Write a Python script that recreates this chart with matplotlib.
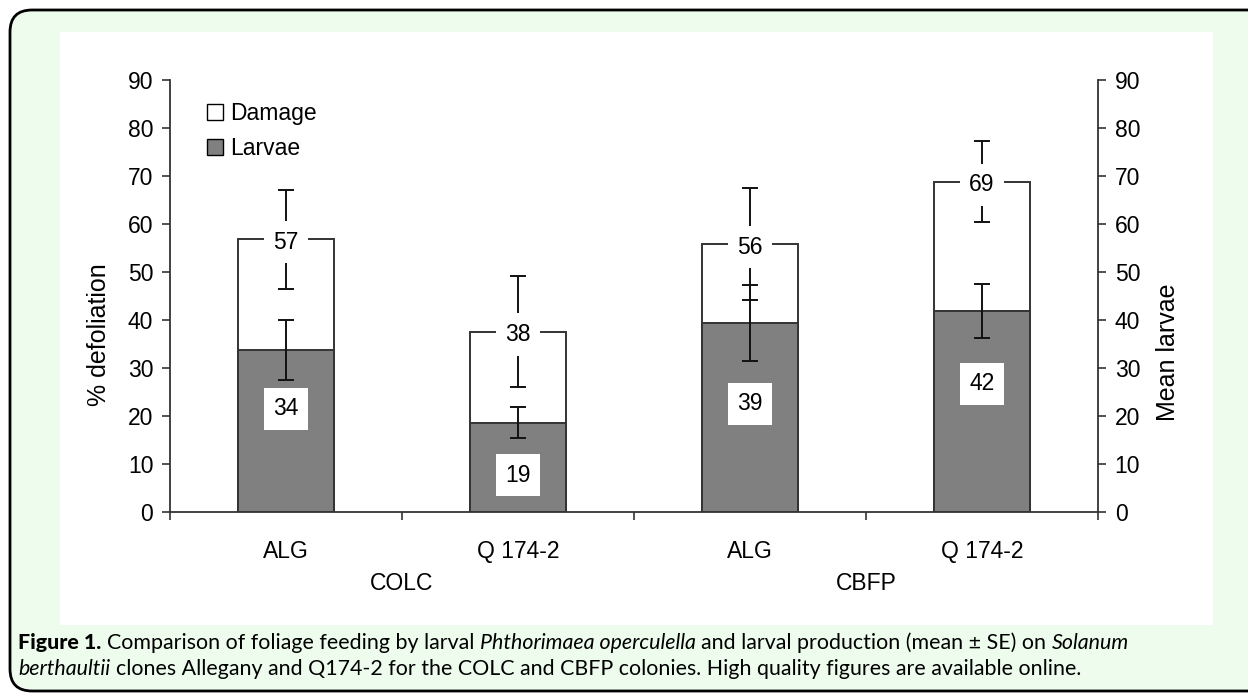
import numpy as np
import matplotlib
matplotlib.use("Agg")
import matplotlib.pyplot as plt
import matplotlib.transforms as mtransforms
from matplotlib.patches import FancyBboxPatch, Rectangle, Patch

plt.rcParams['font.family'] = ['Liberation Sans', 'DejaVu Sans']

# values
groups = ['COLC', 'CBFP']
clones = ['ALG', 'Q 174-2', 'ALG', 'Q 174-2']
damage = [56.8, 37.6, 55.8, 68.8]
damage_se = [10.3, 11.5, 11.6, 8.4]
larvae = [33.8, 18.6, 39.4, 41.9]
larvae_se = [6.3, 3.2, 7.9, 5.7]
damage_labels = ['57', '38', '56', '69']
larvae_labels = ['34', '19', '39', '42']
# hand placed label heights inside the grey bars
larvae_label_y = [21.5, 7.7, 22.5, 26.7]

W, H = 1248, 700
fig = plt.figure(figsize=(W / 100, H / 100), dpi=100)
fig.patch.set_facecolor('white')

# green rounded frame and white panel behind the chart
pix = mtransforms.IdentityTransform()
frame = FancyBboxPatch((10, 9), 1300, 681, boxstyle="round,pad=0,rounding_size=22",
                       fc='#eefcee', ec='black', lw=2, transform=pix, zorder=-10)
fig.add_artist(frame)
panel = Rectangle((60, H - 625), 1153, 593, fc='white', ec='none',
                  transform=pix, zorder=-9)
fig.add_artist(panel)

ax = fig.add_axes([170 / W, 1 - 512 / H, (1098 - 170) / W, (512 - 80) / H])
ax.set_facecolor('none')

x = np.arange(len(clones))
bw = 0.41
edge = '#333333'
ax.bar(x, damage, bw, color='white', edgecolor=edge, lw=1.4, zorder=2, label='Damage')
ax.bar(x, larvae, bw, color='#808080', edgecolor=edge, lw=1.4, zorder=3, label='Larvae')
ax.errorbar(x, damage, yerr=damage_se, fmt='none', ecolor='#111111',
            elinewidth=1.4, capsize=6, capthick=1.4, zorder=4)
ax.errorbar(x, larvae, yerr=larvae_se, fmt='none', ecolor='#111111',
            elinewidth=1.4, capsize=6, capthick=1.4, zorder=4)

box = dict(boxstyle='square,pad=0.42', fc='white', ec='none')
for i in range(len(clones)):
    ax.text(x[i], damage[i] - 0.6, damage_labels[i], ha='center', va='center',
            fontsize=16.5, bbox=box, zorder=6)
    ax.text(x[i], larvae_label_y[i], larvae_labels[i], ha='center', va='center',
            fontsize=16.5, bbox=box, zorder=6)

ax.set_xlim(-0.5, 3.5)
ax.set_ylim(0, 90)
ax.set_yticks(np.arange(0, 91, 10))
ax.set_xticks(np.arange(-0.5, 4, 1))
ax.set_xticklabels([])
ax.set_xticks(x, minor=True)
ax.set_xticklabels(clones, minor=True)
ax.tick_params(axis='x', which='major', direction='out', length=6, color=edge, width=1.2)
ax.tick_params(axis='x', which='minor', length=0, pad=20, labelsize=16.5)
ax.tick_params(axis='y', direction='out', length=6, color=edge, width=1.2,
               labelsize=16.5, pad=6)
for s in ['top', 'right']:
    ax.spines[s].set_visible(False)
for s in ['left', 'bottom']:
    ax.spines[s].set_color(edge)
    ax.spines[s].set_linewidth(1.3)
ax.set_ylabel('% defoliation', fontsize=18)
ax.yaxis.set_label_coords(-0.064, 0.41)

ax2 = ax.twinx()
ax2.set_ylim(0, 90)
ax2.set_yticks(np.arange(0, 91, 10))
for s in ['top', 'left', 'bottom']:
    ax2.spines[s].set_visible(False)
ax2.spines['right'].set_color(edge)
ax2.spines['right'].set_linewidth(1.3)
ax2.tick_params(axis='y', direction='out', length=6, color=edge, width=1.2,
                labelsize=16.5, pad=6)
ax2.set_ylabel('Mean larvae', fontsize=18)
ax2.yaxis.set_label_coords(1.062, 0.37)

# colony labels under each pair of clones
tr = mtransforms.blended_transform_factory(ax.transData, ax.transAxes)
for g, name in enumerate(groups):
    ax.text(2 * g + 0.5, -0.165, name, transform=tr, ha='center', va='center',
            fontsize=16.5)

leg = ax.legend(handles=[Patch(fc='white', ec='black', lw=1),
                         Patch(fc='#808080', ec='black', lw=1)],
                labels=['Damage', 'Larvae'], loc='upper left',
                bbox_to_anchor=(0.03, 0.97), frameon=False, fontsize=16.5,
                handlelength=0.7, handleheight=0.7, handletextpad=0.3,
                labelspacing=0.5, borderaxespad=0)

# caption with mixed bold / italic pieces
cap_font = ['Lato', 'DejaVu Sans']
cap_size = 15.4
lines = [
    [('Figure 1.', 'black', 'normal'),
     ('Comparison of foliage feeding by larval', 'normal', 'normal'),
     ('Phthorimaea operculella', 'normal', 'italic'),
     ('and larval production (mean \u00b1 SE) on', 'normal', 'normal'),
     ('Solanum', 'normal', 'italic')],
    [('berthaultii', 'normal', 'italic'),
     ('clones Allegany and Q174-2 for the COLC and CBFP colonies. High quality figures are available online.',
      'normal', 'normal')],
]
renderer = fig.canvas.get_renderer()
probe = fig.text(0, 0, 'a a', family=cap_font, fontsize=cap_size)
w_sp = probe.get_window_extent(renderer).width
probe.set_text('aa')
w_sp -= probe.get_window_extent(renderer).width
probe.remove()

baselines = [H - 649, H - 675]
for parts, yb in zip(lines, baselines):
    xp = 18
    for txt, wt, st in parts:
        t = fig.text(xp / W, yb / H, txt, family=cap_font, fontsize=cap_size,
                     fontweight=wt, fontstyle=st, va='baseline', ha='left')
        xp += t.get_window_extent(renderer).width + w_sp

fig.savefig('out.png', dpi=100)
